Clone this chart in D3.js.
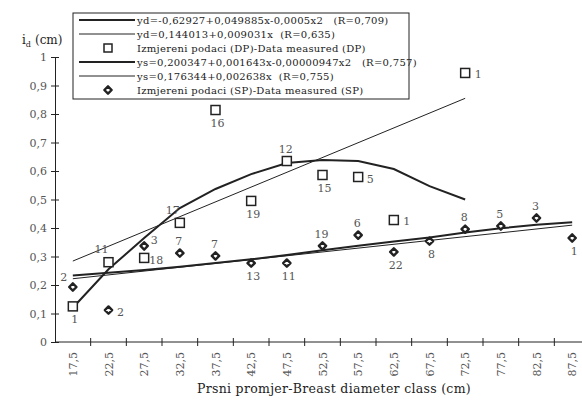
<!DOCTYPE html>
<html>
<head>
<meta charset="utf-8">
<script src="https://cdn.jsdelivr.net/npm/d3@7"></script>
<style>
  body { margin: 0; background: #fff; }
  svg text { font-family: "DejaVu Serif", "Liberation Serif", serif; }
</style>
</head>
<body>
<svg id="chart" width="582" height="400"></svg>
<script>
// diameter classes (cm)
const classes = ["17,5", "22,5", "27,5", "32,5", "37,5", "42,5", "47,5", "52,5",
    "57,5", "62,5", "67,5", "72,5", "77,5", "82,5", "87,5"];
const yTicks = [0, 0.1, 0.2, 0.3, 0.4, 0.5, 0.6, 0.7, 0.8, 0.9, 1];

// measured DP
const dpClasses = ["17,5", "22,5", "27,5", "32,5", "37,5", "42,5", "47,5", "52,5", "57,5", "62,5", "72,5"];
const dpValues = [0.125, 0.28, 0.295, 0.418, 0.814, 0.495, 0.635, 0.586, 0.579, 0.428, 0.944];
const dpCounts = ["1", "11", "18", "17", "16", "19", "12", "15", "5", "1", "1"];
const dpPlace = ["b", "al", "rb", "al", "b", "b", "a", "b", "rb", "r", "r"];

// measured SP
const spValues = [0.193, 0.112, 0.337, 0.312, 0.302, 0.277, 0.277, 0.337, 0.375, 0.316, 0.354, 0.396, 0.407, 0.435, 0.365];
const spCounts = ["2", "2", "3", "7", "7", "13", "11", "19", "6", "22", "8", "8", "5", "3", "1"];
const spPlace = ["la", "rb", "ra", "a", "a", "b", "b", "a", "a", "b", "b", "a", "a", "a", "b"];

// trend lines
const dpQuadClasses = classes.slice(0, 12);
const dpQuadValues = [0.12, 0.255, 0.365, 0.47, 0.537, 0.589, 0.628, 0.639, 0.635, 0.607, 0.547, 0.50];
const dpLinClasses = ["17,5", "72,5"];
const dpLinValues = [0.284, 0.855];
const spQuadValues = [0.233, 0.243, 0.253, 0.264, 0.277, 0.29, 0.305, 0.322, 0.338, 0.353, 0.367, 0.384, 0.399, 0.411, 0.42];
const spLinClasses = ["17,5", "87,5"];
const spLinValues = [0.222, 0.41];

const legendItems = [
    {type: "thick", text: "yd=-0,62927+0,049885x-0,0005x2   (R=0,709)"},
    {type: "thin", text: "yd=0,144013+0,009031x  (R=0,635)"},
    {type: "square", text: "Izmjereni podaci (DP)-Data measured (DP)"},
    {type: "thick", text: "ys=0,200347+0,001643x-0,00000947x2   (R=0,757)"},
    {type: "thin", text: "ys=0,176344+0,002638x  (R=0,755)"},
    {type: "diamond", text: "Izmjereni podaci (SP)-Data measured (SP)"}
];

const svg = d3.select("svg#chart");
const ink = "#222";
const grey = "#555";

const x = d3.scaleBand().domain(classes).range([55, 590]).padding(0);
const cx = c => x(c) + x.bandwidth() / 2;
const y = d3.scaleLinear().domain([0, 1]).range([342, 57]);

// y axis
const yAxis = svg.append("g").attr("transform", "translate(55,0)")
    .call(d3.axisLeft(y).tickValues(yTicks).tickSizeInner(4).tickSizeOuter(0)
        .tickFormat(d => d3.format(".1~f")(d).replace(".", ",")));
yAxis.select(".domain").attr("stroke", ink);
yAxis.selectAll(".tick line").attr("x1", 4).attr("stroke", ink);
yAxis.selectAll(".tick text").attr("x", -8).attr("fill", grey)
    .attr("font-size", 11).attr("font-family", "DejaVu Serif");

// x axis: line with ticks at class borders
const xAxis = svg.append("g");
xAxis.append("line").attr("x1", 55).attr("x2", 590)
    .attr("y1", y(0)).attr("y2", y(0)).attr("stroke", ink);
xAxis.selectAll("line.tk").data(classes).enter().append("line")
    .attr("class", "tk")
    .attr("x1", c => x(c) + x.bandwidth()).attr("x2", c => x(c) + x.bandwidth())
    .attr("y1", y(0) - 4).attr("y2", y(0) + 4).attr("stroke", ink);
xAxis.selectAll("text").data(classes).enter().append("text")
    .attr("transform", c => `translate(${cx(c) + 4},352) rotate(-90)`)
    .attr("text-anchor", "end").attr("font-size", 11).attr("fill", grey)
    .text(c => c);

// axis titles
const yTitle = svg.append("text").attr("x", 22).attr("y", 44).attr("fill", ink).attr("font-size", 12);
yTitle.append("tspan").text("i");
yTitle.append("tspan").attr("font-size", 8).attr("dy", 3).text("d");
yTitle.append("tspan").attr("dy", -3).attr("dx", 4).text("(cm)");

svg.append("text").attr("x", 334).attr("y", 393).attr("text-anchor", "middle")
    .attr("font-size", 12.5).attr("fill", ink).attr("letter-spacing", 0.3)
    .text("Prsni promjer-Breast diameter class (cm)");

// trend lines
const line = d3.line().x(d => cx(d[0])).y(d => y(d[1]));
const drawLine = (cats, vals, width) => {
    svg.append("path").datum(d3.zip(cats, vals))
        .attr("d", line).attr("fill", "none").attr("stroke", ink).attr("stroke-width", width);
};
drawLine(dpLinClasses, dpLinValues, 1);
drawLine(spLinClasses, spLinValues, 1);
drawLine(dpQuadClasses, dpQuadValues, 2);
drawLine(classes, spQuadValues, 2);

// label placement offsets
const offs = {
    b: [2, 17], a: [-1, -8], al: [-7, -9], rb: [12, 6], r: [13, 5], ra: [10, -2], la: [-9, -6]
};

// DP squares
const dp = d3.zip(dpClasses, dpValues, dpCounts, dpPlace);
svg.selectAll("rect.dp").data(dp).enter().append("rect")
    .attr("class", "dp")
    .attr("x", d => cx(d[0]) - 4.5).attr("y", d => y(d[1]) - 4.5)
    .attr("width", 9).attr("height", 9)
    .attr("fill", "#fff").attr("stroke", ink).attr("stroke-width", 1.5);
svg.selectAll("text.dpl").data(dp).enter().append("text")
    .attr("class", "dpl")
    .attr("x", d => cx(d[0]) + offs[d[3]][0]).attr("y", d => y(d[1]) + offs[d[3]][1])
    .attr("text-anchor", "middle").attr("font-size", 11).attr("fill", grey)
    .text(d => d[2]);

// SP diamonds
const sp = d3.zip(classes, spValues, spCounts, spPlace);
const diamond = d3.symbol().type(d3.symbolDiamond2).size(34);
svg.selectAll("path.sp").data(sp).enter().append("path")
    .attr("class", "sp")
    .attr("transform", d => `translate(${cx(d[0])},${y(d[1])})`)
    .attr("d", diamond)
    .attr("fill", "#fff").attr("stroke", ink).attr("stroke-width", 2.4)
    .attr("stroke-linejoin", "round");
svg.selectAll("text.spl").data(sp).enter().append("text")
    .attr("class", "spl")
    .attr("x", d => cx(d[0]) + offs[d[3]][0]).attr("y", d => y(d[1]) + offs[d[3]][1])
    .attr("text-anchor", "middle").attr("font-size", 11).attr("fill", grey)
    .text(d => d[2]);

// legend
const legend = svg.append("g").attr("transform", "translate(73,13)");
legend.append("rect").attr("width", 336).attr("height", 86)
    .attr("fill", "#fff").attr("stroke", ink).attr("stroke-width", 1);
const rows = legend.selectAll("g").data(legendItems).enter().append("g")
    .attr("transform", (d, i) => `translate(0,${7 + i * 14})`);
rows.filter(d => d.type === "thick" || d.type === "thin").append("line")
    .attr("x1", 6).attr("x2", 62).attr("stroke", ink)
    .attr("stroke-width", d => d.type === "thick" ? 2 : 1);
rows.filter(d => d.type === "square").append("rect")
    .attr("x", 31).attr("y", -4).attr("width", 8).attr("height", 8)
    .attr("fill", "#fff").attr("stroke", ink).attr("stroke-width", 1.5);
rows.filter(d => d.type === "diamond").append("path")
    .attr("transform", "translate(35,0)").attr("d", diamond)
    .attr("fill", "#fff").attr("stroke", ink).attr("stroke-width", 2.4)
    .attr("stroke-linejoin", "round");
rows.append("text").attr("x", 64).attr("y", 3.5)
    .attr("font-size", 10).attr("fill", ink).attr("letter-spacing", 0.3)
    .style("white-space", "pre")
    .text(d => d.text);
</script>
</body>
</html>
